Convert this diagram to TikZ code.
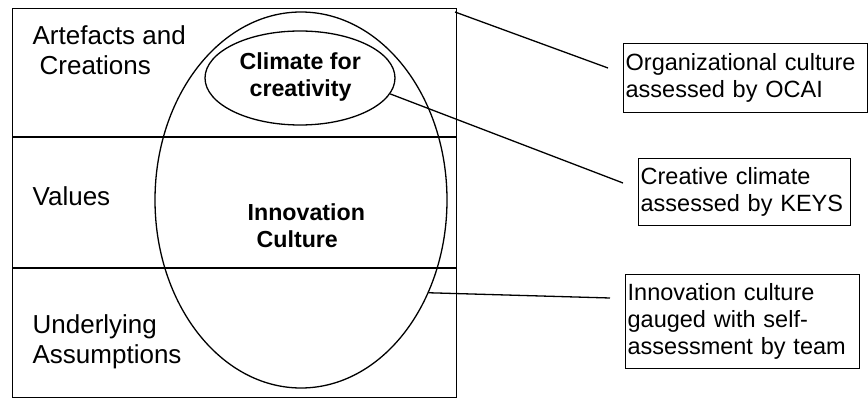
\documentclass[tikz,border=0pt]{standalone}
\usepackage{fontspec}
\setmainfont{Liberation Sans}
\usetikzlibrary{shapes.geometric}
\begin{document}
\begin{tikzpicture}[x=1pt,y=-1pt,line width=1.3pt,
  lbl/.style={font=\fontsize{26}{30}\selectfont,anchor=north west,inner sep=0pt,align=left},
  boldlbl/.style={font=\bfseries\fontsize{23.2}{27.5}\selectfont,anchor=north west,inner sep=0pt,align=left},
  note/.style={draw,anchor=north west,font=\fontsize{23.5}{27}\selectfont,align=left,inner xsep=2pt,inner ysep=0pt},
  oval/.style={draw,ellipse,inner sep=0pt}]
\useasboundingbox (0,0) rectangle (868,398);
% frame with three layers
\node[draw,minimum width=444pt,minimum height=389pt,inner sep=0pt,anchor=north west] (frame) at (12,8) {};
\draw (12,137) -- (456,137);
\draw (12,268) -- (456,268);
% layer labels
\node[lbl] (art) at (32,25) {Artefacts and\\\hspace{7pt}Creations};
\node[lbl] (val) at (32,186) {Values};
\node[lbl] (und) at (32,314) {Underlying\\Assumptions};
% ellipses
\node[oval,minimum width=292pt,minimum height=376pt] (ic) at (301,200) {};
\node[oval,minimum width=190pt,minimum height=94pt] (clim) at (300,78) {};
\node[boldlbl] (climtxt) at (239,52) {Climate for\\\hspace{10pt}creativity};
\node[boldlbl] (ictxt) at (247,203) {Innovation\\\hspace{9pt}Culture};
% note boxes
\node[note,text width=240pt,minimum height=69pt] (n1) at (623,43) {Organizational culture\\assessed by OCAI};
\node[note,text width=208pt,minimum height=67pt] (n2) at (638,158) {Creative climate\\assessed by KEYS};
\node[note,text width=230pt,minimum height=94pt] (n3) at (625,274) {Innovation culture\\gauged with self-\\assessment by team};
% connectors
\coordinate (p1) at (455,12);
\coordinate (q1) at (608,68);
\coordinate (q2) at (623,183);
\coordinate (q3) at (610,298);
\draw (p1) -- (q1);
\draw (clim.-10) -- (q2);
\draw (ic.-36) -- (q3);
\end{tikzpicture}
\end{document}
